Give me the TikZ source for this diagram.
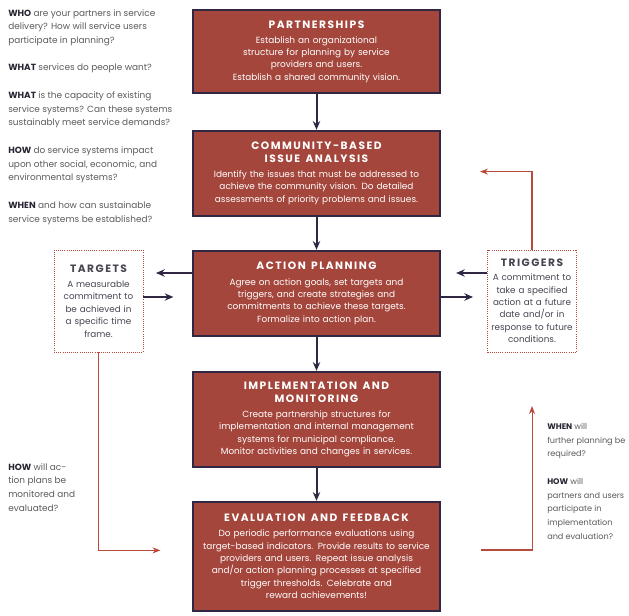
\documentclass[tikz,border=0pt]{standalone}
\usepackage{fontspec}
\setmainfont{Poppins}
\usetikzlibrary{calc,arrows.meta}

\definecolor{boxred}{RGB}{164,70,60}
\definecolor{boxline}{RGB}{48,40,66}
\definecolor{linered}{RGB}{184,74,60}
\definecolor{notegray}{RGB}{90,90,90}
\definecolor{noteblack}{RGB}{40,36,50}

\newcommand{\stagehead}[1]{{\fontsize{8}{10}\selectfont\bfseries\addfontfeature{LetterSpace=14}#1}}
\newcommand{\gap}{\hspace{4pt}}
\newcommand{\ask}[1]{\textcolor{noteblack}{\bfseries #1}}

\tikzset{
  stage/.style={draw=boxline, line width=1.8pt, fill=boxred, text=white,
    minimum width=185pt, text width=180pt, align=center, inner sep=0pt,
    font=\fontsize{6.7}{9.3}\selectfont},
  sidebox/.style={draw=linered, densely dotted, line width=0.6pt, fill=white,
    text=noteblack!85, minimum width=66.75pt, minimum height=76.5pt,
    text width=64pt, align=center, inner sep=0pt,
    font=\fontsize{6.6}{9.3}\selectfont},
  note/.style={text=notegray, align=left, inner sep=0pt,
    font=\fontsize{6.7}{10.3}\selectfont},
  flow/.style={draw=boxline, line width=1.5pt, -{Stealth[length=6.5pt,width=5.5pt]}},
  back/.style={draw=linered, line width=0.8pt, -{Stealth[length=6pt,width=4.5pt]}}
}

\begin{document}
\begin{tikzpicture}[x=0.75pt, y=-0.75pt]
		%%%%% START %%%%%
		\useasboundingbox (0,0) rectangle (629,616);
		
		% the five stages
		\node[stage, minimum height=62.25pt] (part) at (316.5,51.5)
			{\stagehead{PARTNERSHIPS}\\[2pt]
			 Establish an organizational\\ structure for planning by service\\ providers and users.\\ Establish a shared community vision.};
		\node[stage, minimum height=63.75pt] (issue) at (316.5,173.5)
			{\stagehead{COMMUNITY-BASED}\\ \stagehead{ISSUE\gap ANALYSIS}\\[2pt]
			 Identify the issues that must be addressed to\\ achieve the community vision. Do detailed\\ assessments of priority problems and issues.};
		\node[stage, minimum height=63.75pt] (action) at (316.5,293.5)
			{\stagehead{ACTION\gap PLANNING}\\[2pt]
			 Agree on action goals, set targets and\\ triggers, and create strategies and\\ commitments to achieve these targets.\\ Formalize into action plan.};
		\node[stage, minimum height=71.25pt] (impl) at (316.5,419.5)
			{\stagehead{IMPLEMENTATION\gap AND}\\ \stagehead{MONITORING}\\[2pt]
			 Create partnership structures for\\ implementation and internal management\\ systems for municipal compliance.\\ Monitor activities and changes in services.};
		\node[stage, minimum height=81.75pt] (eval) at (316.5,556.5)
			{\stagehead{EVALUATION\gap AND\gap FEEDBACK}\\[2pt]
			 Do periodic performance evaluations using\\ target-based indicators. Provide results to service\\ providers and users. Repeat issue analysis\\ and/or action planning processes at specified\\ trigger thresholds. Celebrate and\\ reward achievements!};
		
		\draw[flow] (part) -- (issue);
		\draw[flow] (issue) -- (action);
		\draw[flow] (action) -- (impl);
		\draw[flow] (impl) -- (eval);
		
		% targets and triggers
		\node[sidebox] (targets) at (98.5,301)
			{\stagehead{TARGETS}\\[2pt]
			 A measurable\\ commitment to\\ be achieved in\\ a specific time\\ frame.};
		\node[sidebox] (triggers) at (532,301)
			{\stagehead{TRIGGERS}\\[1pt]
			 A commitment to\\ take a specified\\ action at a future\\ date and/or in\\ response to future\\ conditions.};
		
		\draw[flow] ($(action.west)+(0,-20.5)$) -- ++(-36,0);
		\draw[flow] ($(targets.east)+(0,-4)$) -- ++(30,0);
		\draw[flow] ($(action.east)+(0,3.5)$) -- ++(32,0);
		\draw[flow] ($(triggers.west)+(0,-28)$) -- ++(-31,0);
		
		% feedback loops
		\draw[back] (triggers.north) -- ++(0,-78) -- ++(-52,0);
		\draw[back] (targets.south) -- ++(0,198) -- ++(62,0);
		\draw[back] ($(eval.east)+(40,-6.5)$) -- ++(51,0) -- ++(0,-144);
		
		% questions
		\node[note, anchor=north west] (asks) at (8,9)
			{\ask{WHO} are your partners in service\\ delivery? How will service users\\ participate in planning?\\[10.3pt]
			 \ask{WHAT} services do people want?\\[10.3pt]
			 \ask{WHAT} is the capacity of existing\\ service systems? Can these systems\\ sustainably meet service demands?\\[10.3pt]
			 \ask{HOW} do service systems impact\\ upon other social, economic, and\\ environmental systems?\\[10.3pt]
			 \ask{WHEN} and how can sustainable\\ service systems be established?};
		\node[note, anchor=north west] (monitor) at (8,463)
			{\ask{HOW} will ac-\\ tion plans be\\ monitored and\\ evaluated?};
		\node[note, anchor=north west, font=\fontsize{6.1}{10.3}\selectfont] (further) at (547,423)
			{\ask{WHEN} will\\ further planning be\\ required?\\[10.3pt]
			 \ask{HOW} will\\ partners and users\\ participate in\\ implementation\\ and evaluation?};
		
		%%%%% END %%%%%
\end{tikzpicture}
\end{document}
